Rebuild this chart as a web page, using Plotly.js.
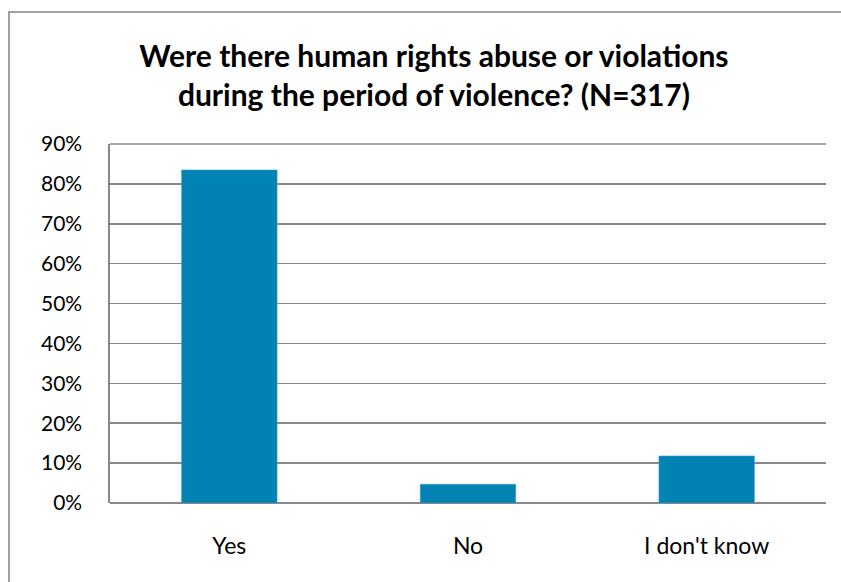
<!DOCTYPE html>
<html>
<head>
<meta charset="utf-8">
<script src="https://cdn.plot.ly/plotly-3.0.1.min.js"></script>
<style>
html,body{margin:0;padding:0;background:#fff;}
#chart{width:841px;height:582px;}
</style>
</head>
<body>
<div id="chart"></div>
<script>
const categories = ["Yes", "No", "I don't know"];
const values = [0.835, 0.047, 0.118];
const tickValues = [0, 0.1, 0.2, 0.3, 0.4, 0.5, 0.6, 0.7, 0.8, 0.9];
const tickLabels = ["0%", "10%", "20%", "30%", "40%", "50%", "60%", "70%", "80%", "90%"];
const titleText = "Were there human rights abuse or violations<br>during the period of violence? (N=317)";

const W = 841, H = 582;
const m = {l: 110, r: 15, t: 144, b: 79};
const pw = W - m.l - m.r, ph = H - m.t - m.b;
const fontFam = "Lato, 'Open Sans', sans-serif";

Plotly.newPlot("chart", [{
  type: "bar",
  x: categories,
  y: values,
  marker: {color: "#0083B3", line: {color: "#3aa3cc", width: 0.6}},
  hoverinfo: "x+y"
}], {
  width: W, height: H,
  margin: m,
  paper_bgcolor: "#fff",
  plot_bgcolor: "#fff",
  bargap: 0.6,
  showlegend: false,
  title: {
    text: titleText,
    font: {family: fontFam, size: 30, color: "#000", weight: "bold"},
    x: 0.516, xanchor: "center",
    y: 0.885, yanchor: "middle"
  },
  xaxis: {
    type: "category",
    tickfont: {family: fontFam, size: 23, color: "#000"},
    ticks: "",
    ticklabelstandoff: 27,
    showline: false,
    showgrid: false,
    zeroline: false
  },
  yaxis: {
    range: [0, 0.9],
    tickvals: tickValues,
    ticktext: tickLabels,
    tickfont: {family: fontFam, size: 21, color: "#000"},
    ticks: "",
    ticklabelstandoff: 22,
    showgrid: true,
    gridcolor: "#888888",
    gridwidth: 1.6,
    zeroline: true,
    zerolinecolor: "#888888",
    zerolinewidth: 1.6,
    showline: true,
    linecolor: "#888888",
    linewidth: 1.6,
    fixedrange: true
  },
  shapes: [
    {type: "line", xref: "paper", yref: "paper",
     x0: 0, x1: 1, y0: 1, y1: 1, line: {color: "#888888", width: 1.6}},
    {type: "rect", xref: "paper", yref: "paper", layer: "below",
     x0: (9 - m.l) / pw, x1: (W + 20 - m.l) / pw,
     y0: -(H + 20 - (m.t + ph)) / ph, y1: 1 + (m.t - 12) / ph,
     line: {color: "#a0a0a0", width: 2}, fillcolor: "rgba(0,0,0,0)"}
  ]
}, {displayModeBar: false, staticPlot: true});
</script>
</body>
</html>
